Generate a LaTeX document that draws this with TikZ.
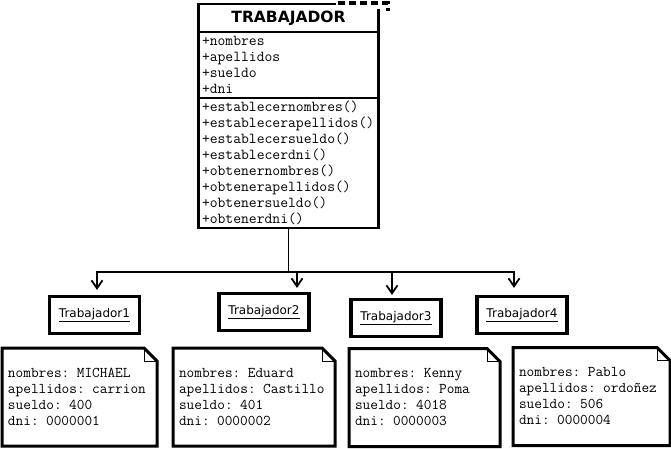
\documentclass[tikz,border=0pt]{standalone}
\usepackage{fontspec}
\newfontfamily\umlsans{DejaVu Sans}
\usetikzlibrary{arrows.meta,positioning}

\begin{document}
\begin{tikzpicture}[x=1pt, y=-1pt,
  cls/.style={draw, line width=2.6pt, outer sep=0pt, inner sep=0pt, minimum width=180pt},
  hdr/.style={cls, minimum height=28pt, font=\umlsans\fontsize{15.5}{18}\selectfont\bfseries},
  sec/.style={cls, align=left, text width=173pt, font=\ttfamily\fontsize{15.2}{16}\selectfont},
  obj/.style={draw, line width=3.2pt, minimum width=90pt, minimum height=37pt,
              font=\umlsans\fontsize{12}{14}\selectfont},
  nt/.style={align=left, inner xsep=6pt, outer sep=0pt, minimum height=98pt,
             font=\ttfamily\fontsize{14.9}{16}\selectfont},
  ntline/.style={line width=3pt, line join=miter},
  ar/.style={-{Straight Barb[length=8pt,width=11pt]}, line width=1.8pt}]
\useasboundingbox (0,0) rectangle (671,449);
% class
\node[hdr, anchor=north] (cls) at (288.5,4) {TRABAJADOR};
\node[sec, minimum height=66pt, below=0pt of cls] (attrs) {+nombres\\+apellidos\\+sueldo\\+dni};
\node[sec, minimum height=130pt, below=0pt of attrs] (ops) {+establecernombres()\\+establecerapellidos()\\+establecersueldo()\\+establecerdni()\\+obtenernombres()\\+obtenerapellidos()\\+obtenersueldo()\\+obtenerdni()};
\fill[white] (336,-1) rectangle (392,9);
\draw[line width=3.2pt, dash pattern=on 7pt off 4pt] (338,3) -- (388,3) -- (388,11);
% objects
\foreach \w/\x/\y/\lbl in {w1/94.5/315/Trabajador1, w2/264/312/Trabajador2,
                           w3/396/318/Trabajador3, w4/522/315/Trabajador4}
  \node[obj] (\w) at (\x,\y) {\underline{\lbl}};
\coordinate (bus) at ([yshift=-44pt]ops.south);
\draw[line width=1.8pt] (ops.south) -- (bus);
\foreach \w/\dx/\dy in {w1/2.5/5, w2/33/4, w3/-4/3, w4/-8/7}
  \draw[ar] (bus) -| ([xshift=\dx pt, yshift=\dy pt]\w.north);
% notes
\foreach \n/\x/\y/\bw/\txt [evaluate=\bw as \tw using \bw-12] in {
  n1/79.5/397/155/{nombres: MICHAEL\\apellidos: carrion\\sueldo: 400\\dni: 0000001},
  n2/254/397/162/{nombres: Eduard\\apellidos: Castillo\\sueldo: 401\\dni: 0000002},
  n3/424.5/397.5/151/{nombres: Kenny\\apellidos: Poma\\sueldo: 4018\\dni: 0000003},
  n4/591.5/396.5/157/{nombres: Pablo\\apellidos: ordoñez\\sueldo: 506\\dni: 0000004}}{
  \node[nt, text width=\tw pt] (\n) at (\x,\y) {\txt};
  \draw[ntline] (\n.south west) -- (\n.north west) -- ([xshift=-13pt]\n.north east)
    -- ([yshift=-13pt]\n.north east) -- (\n.south east) -- cycle;
  \draw[line width=0.8pt] ([xshift=-13pt]\n.north east) |- ([yshift=-13pt]\n.north east);
}
\end{tikzpicture}
\end{document}
